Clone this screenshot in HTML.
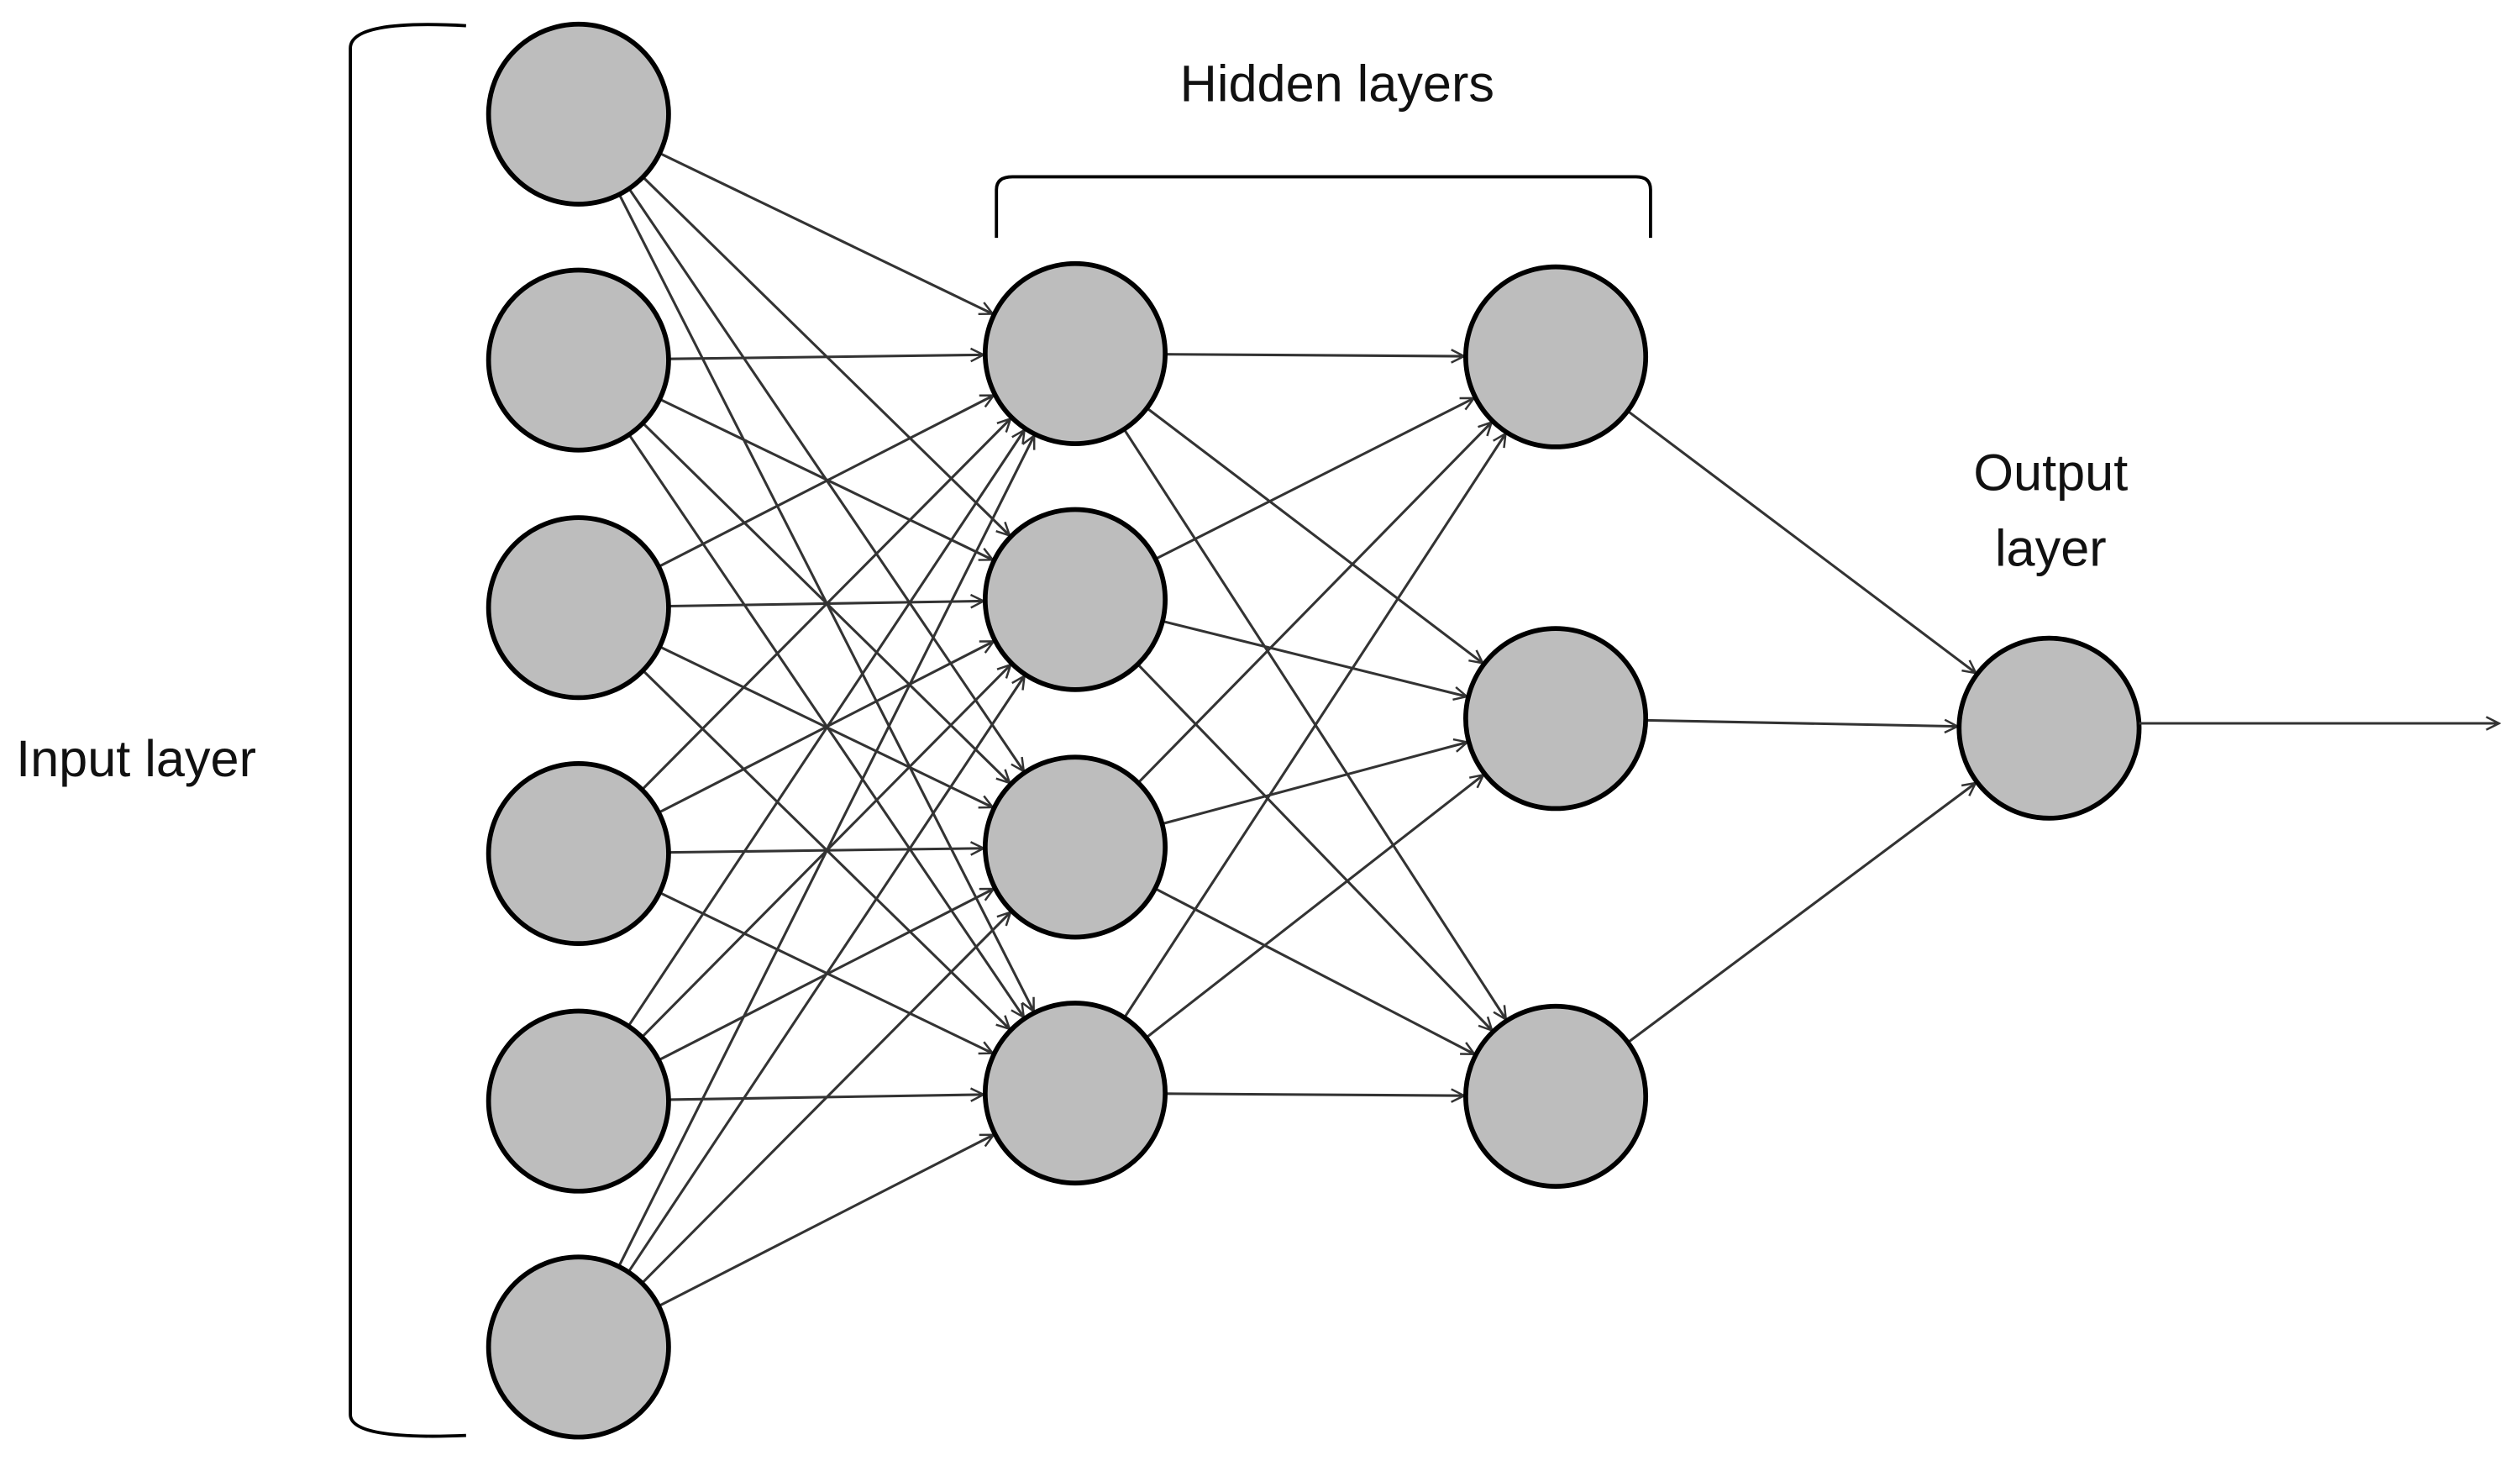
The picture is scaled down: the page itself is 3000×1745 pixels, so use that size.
<!DOCTYPE html>
<html><head><meta charset="utf-8"><style>
html,body{margin:0;padding:0;background:#fff;width:3000px;height:1745px;overflow:hidden}
svg{display:block}
text{font-family:"Liberation Sans",sans-serif;fill:#111}
</style></head><body>
<svg id="s" width="3000" height="1745" viewBox="0 0 1568 912" preserveAspectRatio="none" xmlns="http://www.w3.org/2000/svg">
<defs><marker id="a" markerWidth="10" markerHeight="10" refX="9" refY="5" orient="auto" markerUnits="userSpaceOnUse"><path d="M1,1 L9,5 L1,9" fill="none" stroke="#333" stroke-width="1.3"/></marker></defs>
<g id="lines" stroke="#333" stroke-width="1.6" fill="none"></g>
<g id="nodes" fill="#bdbdbd" stroke="#000" stroke-width="3"></g>
<path d="M290,16 Q218,12 218,30 L218,880 Q218,896 290,893" fill="none" stroke="#000" stroke-width="2"/>
<path d="M620,148 L620,118 Q620,110 630,110 L1018,110 Q1027,110 1027,118 L1027,148" fill="none" stroke="#000" stroke-width="2"/>
<line x1="1331" y1="450" x2="1555" y2="450" stroke="#333" stroke-width="1.6" marker-end="url(#a)"/>
<text x="10" y="483" font-size="32">Input layer</text>
<text x="832" y="63" font-size="32" text-anchor="middle">Hidden layers</text>
<text x="1276" y="305" font-size="32" text-anchor="middle">Output</text>
<text x="1276" y="352" font-size="32" text-anchor="middle">layer</text>
</svg>
<script>
var R=56,NS="http://www.w3.org/2000/svg";
var L=[[[360,71],[360,224],[360,378],[360,531],[360,685],[360,838]],
[[669,220],[669,373],[669,527],[669,680]],
[[968,222],[968,447],[968,682]],
[[1275,453]]];
var lg=document.getElementById('lines'),ng=document.getElementById('nodes');
for(var k=0;k<3;k++)for(var i=0;i<L[k].length;i++)for(var j=0;j<L[k+1].length;j++){
var a=L[k][i],b=L[k+1][j],dx=b[0]-a[0],dy=b[1]-a[1],d=Math.sqrt(dx*dx+dy*dy),ux=dx/d,uy=dy/d;
var l=document.createElementNS(NS,'line');
l.setAttribute('x1',a[0]+ux*R);l.setAttribute('y1',a[1]+uy*R);
l.setAttribute('x2',b[0]-ux*(R+1));l.setAttribute('y2',b[1]-uy*(R+1));
l.setAttribute('marker-end','url(#a)');lg.appendChild(l);}
L.forEach(function(ly){ly.forEach(function(p){var c=document.createElementNS(NS,'circle');
c.setAttribute('cx',p[0]);c.setAttribute('cy',p[1]);c.setAttribute('r',R);ng.appendChild(c);});});
</script>
</body></html>
